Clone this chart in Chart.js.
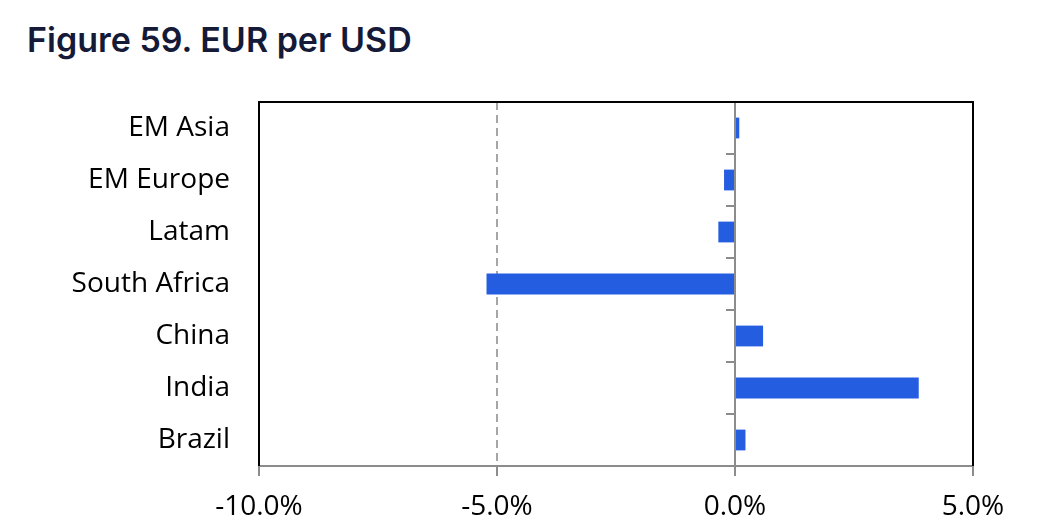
<!DOCTYPE html>
<html>
<head>
<meta charset="utf-8">
<script src="https://cdn.jsdelivr.net/npm/chart.js@4/dist/chart.umd.min.js"></script>
<style>
  html, body { margin: 0; padding: 0; background: #fff; }
  #wrap { position: relative; width: 1058px; height: 523px; }
  #title {
    position: absolute; left: 27px; top: 19px;
    font: 600 34px Inter, "Open Sans", sans-serif; color: #141a38;
  }
  canvas { position: absolute; left: 0; top: 0; }
</style>
</head>
<body>
<div id="wrap">
  <div id="title">Figure 59. EUR per USD</div>
  <canvas id="chart" width="1058" height="523"></canvas>
</div>
<script>
// categories and values (% change)
const regions = ["EM Asia", "EM Europe", "Latam", "South Africa", "China", "India", "Brazil"];
const changes = [0.09, -0.23, -0.35, -5.22, 0.59, 3.86, 0.22];
const xTicks = [-10, -5, 0, 5];

const barBlue = "#255de1";
const axisGrey = "#8c8c8c";

// black frame on top/left/right plus the solid zero line with its little ticks
const framePlugin = {
  id: "frame",
  afterDatasetsDraw(chart) {
    const { ctx, chartArea: a, scales } = chart;
    const x0 = scales.x.getPixelForValue(0);
    const n = regions.length;
    const step = (a.bottom - a.top) / n;
    ctx.save();
    ctx.strokeStyle = axisGrey;
    ctx.lineWidth = 2;
    ctx.beginPath();
    ctx.moveTo(x0, a.top);
    ctx.lineTo(x0, a.bottom);
    for (let i = 0; i <= n; i++) {
      const y = a.top + step * i;
      ctx.moveTo(x0 - 9, y);
      ctx.lineTo(x0, y);
    }
    ctx.stroke();
    ctx.strokeStyle = "#000";
    ctx.beginPath();
    ctx.moveTo(a.left, a.bottom);
    ctx.lineTo(a.left, a.top);
    ctx.lineTo(a.right, a.top);
    ctx.lineTo(a.right, a.bottom);
    ctx.stroke();
    ctx.restore();
  }
};

new Chart(document.getElementById("chart"), {
  type: "bar",
  data: {
    labels: regions,
    datasets: [{
      data: changes,
      backgroundColor: barBlue,
      borderWidth: 0,
      categoryPercentage: 1,
      barPercentage: 0.4
    }]
  },
  options: {
    indexAxis: "y",
    responsive: false,
    animation: false,
    layout: { padding: { top: 102, right: 85, left: 0, bottom: 0 } },
    plugins: { legend: { display: false }, tooltip: { enabled: false } },
    scales: {
      x: {
        min: -10,
        max: 5,
        afterBuildTicks: (scale) => { scale.ticks = xTicks.map(v => ({ value: v })); },
        afterFit: (scale) => { scale.height = 57; },
        grid: {
          color: (c) => (c.tick && c.tick.value === -5 ? "#a6a6a6" : "transparent"),
          lineWidth: 2,
          tickColor: axisGrey,
          tickLength: 10,
          tickWidth: 2
        },
        border: { color: axisGrey, width: 2, dash: [8, 5] },
        ticks: {
          padding: 14,
          color: "#000",
          font: { family: "Open Sans", size: 28 },
          callback: (v) => v.toFixed(1) + "%"
        }
      },
      y: {
        afterFit: (scale) => { scale.width = 259; },
        grid: { display: false, drawTicks: false },
        border: { display: false },
        ticks: {
          padding: 29,
          color: "#000",
          font: { family: "Open Sans", size: 28 }
        }
      }
    }
  },
  plugins: [framePlugin]
});
</script>
</body>
</html>
